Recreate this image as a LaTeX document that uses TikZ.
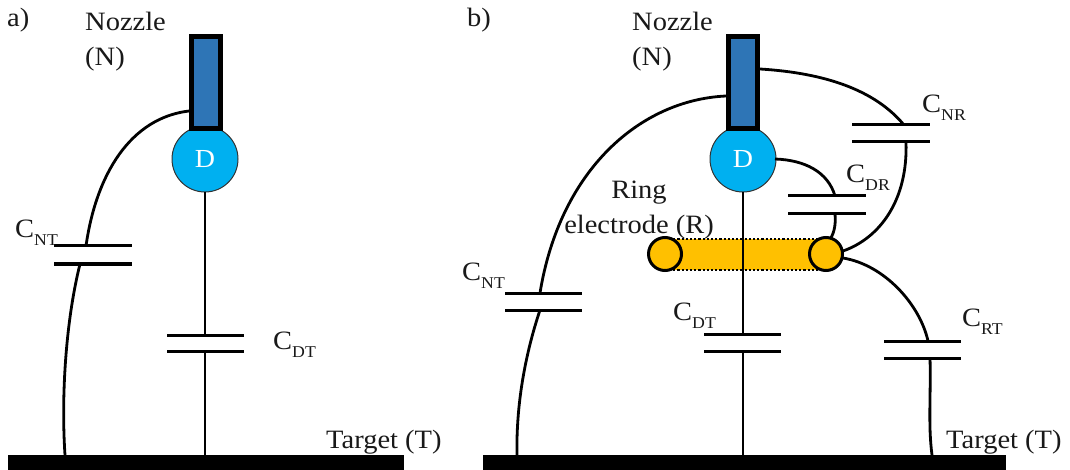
\documentclass[tikz,border=0pt]{standalone}
\usepackage{fontspec}
\setmainfont[FakeStretch=1.075]{Liberation Serif}
\definecolor{nozzleblue}{HTML}{2E75B6}
\definecolor{dropblue}{HTML}{00B0F0}
\definecolor{ringgold}{HTML}{FFC000}
\newcommand{\capname}[1]{C\raisebox{-0.3em}{\fontsize{16.5}{16.5}\selectfont #1}}
\tikzset{
  wire/.style={line width=2.8pt,black},
  plate/.style={line width=3pt,black},
  nozzlebox/.style={draw=black,line width=5pt,fill=nozzleblue,minimum width=29pt,minimum height=92pt,inner sep=0pt},
  dropnode/.style={circle,draw=black!80,line width=1pt,fill=dropblue,minimum size=66pt,inner sep=0pt,text=white,font=\fontsize{26}{26}\selectfont},
  ringend/.style={circle,draw=black,line width=3pt,fill=ringgold,minimum size=33pt,inner sep=0pt},
  targetbar/.style={fill=black,draw=none,inner sep=0pt,minimum height=15pt},
  lbl/.style={inner sep=0pt,font=\fontsize{26.5}{34.5}\selectfont,align=left,anchor=west,text=black!90},
}
\begin{document}
\begin{tikzpicture}[x=1pt,y=-1pt]
\useasboundingbox (0,0) rectangle (1070,470);
% --- panel a
\node[targetbar,minimum width=396pt] (Ta) at (206,462.5) {};
\node[dropnode] (Da) at (205,159) {D};
\node[nozzlebox] (Na) at (205.5,83) {};
\coordinate (aNT1) at (86,246); \coordinate (aNT2) at (80,264);
\coordinate (aDT1) at (205,335); \coordinate (aDT2) at (205,351);
\coordinate (aTn) at (65,455); \coordinate (aTd) at (205,455);
\coordinate (aNn) at (189,111);
\draw[wire] (aNn) .. controls (130,118) and (96,175) .. (aNT1);
\draw[wire] (aNT2) .. controls (66,320) and (61,395) .. (aTn);
\draw[wire] (Da.south) -- (aDT1);
\draw[wire] (aDT2) -- (aTd);
\draw[plate] (54,246) -- (132,246);
\draw[plate] (54,264) -- (132,264);
\draw[plate] (167,335) -- (244,335);
\draw[plate] (167,351) -- (244,351);
\node[lbl] (la) at (7,20) {a)};
\node[lbl,anchor=north west] (nla) at (85,12) {Nozzle\\(N)};
\node[lbl] (cnta) at (15,233) {\capname{NT}};
\node[lbl] (cdta) at (273,345) {\capname{DT}};
\node[lbl] (tta) at (326,442) {Target (T)};
% --- panel b
\node[targetbar,minimum width=523pt] (Tb) at (744.5,462.5) {};
\node[inner sep=0pt,fill=ringgold,minimum width=161pt,minimum height=31pt] (Rbar) at (745.5,254.5) {};
\draw[line width=2.2pt,black,dotted] (Rbar.north west) -- (Rbar.north east);
\draw[line width=2.2pt,black,dotted] (Rbar.south west) -- (Rbar.south east);
\node[dropnode] (Db) at (743,159) {D};
\node[nozzlebox] (Nb) at (743,83) {};
\node[ringend] (Rl) at (665,254) {};
\node[ringend] (Rr) at (826,254) {};
\coordinate (bNT1) at (540,293); \coordinate (bNT2) at (540,310); \coordinate (bTn) at (517,455);
\coordinate (bDT1) at (743,334); \coordinate (bDT2) at (743,351); \coordinate (bTd) at (743,455);
\coordinate (bNR1) at (904,125); \coordinate (bNR2) at (906,142);
\coordinate (bDR1) at (835,196); \coordinate (bDR2) at (835,214);
\coordinate (bRT1) at (928,341); \coordinate (bRT2) at (930,358); \coordinate (bTr) at (932,455);
\coordinate (bNn) at (726,96); \coordinate (bNr) at (760,69);
\coordinate (bDr) at (775,159); \coordinate (bRa) at (831,238);
\coordinate (bRb) at (843,251); \coordinate (bRc) at (843,258);
\draw[wire] (bNn) .. controls (640,100) and (560,170) .. (bNT1);
\draw[wire] (bNT2) .. controls (525,355) and (516,405) .. (bTn);
\draw[wire] (Db.south) -- (bDT1);
\draw[wire] (bDT2) -- (bTd);
\draw[wire] (bNr) .. controls (825,73) and (875,90) .. (bNR1);
\draw[wire] (bNR2) .. controls (908,200) and (880,238) .. (bRb);
\draw[wire] (bDr) .. controls (805,160) and (828,172) .. (bDR1);
\draw[wire] (bDR2) .. controls (836,225) and (834,232) .. (bRa);
\draw[wire] (bRc) .. controls (885,265) and (920,305) .. (bRT1);
\draw[wire] (bRT2) .. controls (931,395) and (928,425) .. (bTr);
\draw[plate] (505,293) -- (582,293);
\draw[plate] (505,310) -- (582,310);
\draw[plate] (704,334) -- (781,334);
\draw[plate] (704,351) -- (781,351);
\draw[plate] (852,125) -- (930,125);
\draw[plate] (852,142) -- (930,142);
\draw[plate] (788,196) -- (866,196);
\draw[plate] (788,214) -- (866,214);
\draw[plate] (884,341) -- (961,341);
\draw[plate] (884,358) -- (961,358);
\node[lbl] (lb) at (467,20) {b)};
\node[lbl,anchor=north west] (nlb) at (632,12) {Nozzle\\(N)};
\node[lbl,align=center,anchor=north] (rl) at (639,181) {Ring\\electrode (R)};
\node[lbl] (cntb) at (462,276) {\capname{NT}};
\node[lbl] (cdtb) at (673,316) {\capname{DT}};
\node[lbl] (cnrb) at (922,108) {\capname{NR}};
\node[lbl] (cdrb) at (846,178) {\capname{DR}};
\node[lbl] (crtb) at (962,322) {\capname{RT}};
\node[lbl] (ttb) at (946,442) {Target (T)};
\end{tikzpicture}
\end{document}
